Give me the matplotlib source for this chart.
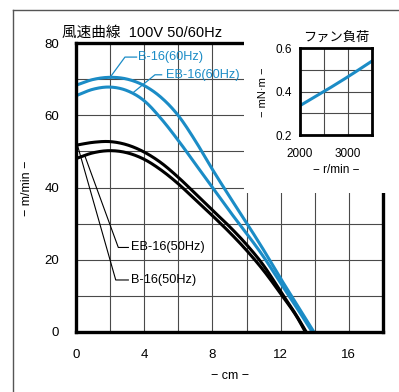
import numpy as np
import matplotlib
matplotlib.use("Agg")
import matplotlib.pyplot as plt
from matplotlib.lines import Line2D
from matplotlib.patches import Rectangle

plt.rcParams['font.family'] = ['Liberation Sans', 'Noto Sans CJK JP', 'DejaVu Sans']

# ---- data ----
dist_cm = [0, 1, 2, 3, 4, 5, 6, 7, 8, 9, 10, 11, 12, 13]
b16_60 = [68.3, 69.9, 70.5, 70.0, 68.2, 64.9, 59.9, 52.9, 45.0, 37.5, 30.2, 22.7, 14.8, 7.2]
b16_60_end = 13.95
eb16_60 = [65.4, 67.2, 67.8, 66.8, 64.0, 59.0, 53.0, 46.5, 40.0, 33.5, 27.3, 20.8, 13.5, 6.3]
eb16_60_end = 13.85
b16_50 = [51.7, 52.5, 52.7, 51.8, 49.8, 46.8, 42.8, 38.3, 33.7, 29.2, 24.2, 18.4, 11.2, 4.0]
b16_50_end = 13.5
eb16_50 = [48.0, 49.6, 50.2, 49.6, 47.8, 44.8, 41.0, 36.6, 32.2, 27.6, 22.6, 17.0, 10.6, 3.8]
eb16_50_end = 13.45

rpm = [2000, 2500, 3000, 3500]
torque = [0.335, 0.40, 0.468, 0.54]

BLUE = '#1b8cc6'
GRID = '#4a4a4a'


def smooth(xs, ys, n=400):
    xs = np.asarray(xs, float)
    ys = np.asarray(ys, float)
    m = np.gradient(ys, xs)
    xx = np.linspace(xs[0], xs[-1], n)
    out = np.empty_like(xx)
    idx = np.clip(np.searchsorted(xs, xx) - 1, 0, len(xs) - 2)
    for k, x in enumerate(xx):
        i = idx[k]
        h = xs[i + 1] - xs[i]
        t = (x - xs[i]) / h
        h00 = 2 * t**3 - 3 * t**2 + 1
        h10 = t**3 - 2 * t**2 + t
        h01 = -2 * t**3 + 3 * t**2
        h11 = t**3 - t**2
        out[k] = h00 * ys[i] + h10 * h * m[i] + h01 * ys[i + 1] + h11 * h * m[i + 1]
    return xx, out


fig = plt.figure(figsize=(3.99, 3.92), dpi=100)
W, H = 399, 392

# outer frame (partial)
fig.add_artist(Line2D([13 / W, 1.0], [1 - 10 / H, 1 - 10 / H], color='#555555', lw=1.0))
fig.add_artist(Line2D([13 / W, 13 / W], [0, 1 - 10 / H], color='#555555', lw=1.0))

ax = fig.add_axes([76 / W, 1 - 332 / H, 307 / W, 289 / H])
ax.set_xlim(0, 18)
ax.set_ylim(0, 80)
ax.set_xticks([0, 4, 8, 12, 16])
ax.set_xticks(np.arange(2, 18, 2), minor=True)
ax.set_yticks([0, 20, 40, 60, 80])
ax.set_yticks(np.arange(10, 80, 10), minor=True)
ax.grid(True, which='both', color=GRID, lw=0.8)
ax.tick_params(which='both', length=0)
ax.tick_params(axis='y', pad=12, labelsize=9.5)
ax.tick_params(axis='x', pad=12, labelsize=9.5)
for s in ax.spines.values():
    s.set_linewidth(2.4)
    s.set_zorder(5)

for ys, xe, c in [(b16_60, b16_60_end, BLUE), (eb16_60, eb16_60_end, BLUE),
                  (b16_50, b16_50_end, 'black'), (eb16_50, eb16_50_end, 'black')]:
    xx, yy = smooth(dist_cm + [xe], ys + [0.0])
    ax.plot(xx, yy, color=c, lw=2.2, solid_capstyle='butt', zorder=3)

# leaders and labels
ax.plot([2.0, 2.87, 3.55], [70.5, 76.1, 76.1], color=BLUE, lw=0.9, zorder=4)
ax.text(3.65, 76.1, 'B-16(60Hz)', color=BLUE, fontsize=9.2, va='center', ha='left')
ax.plot([3.36, 4.63, 5.02], [66.3, 71.2, 71.2], color=BLUE, lw=0.9, zorder=4)
ax.text(5.3, 71.2, 'EB-16(60Hz)', color=BLUE, fontsize=9.2, va='center', ha='left')
ax.plot([0.08, 2.33, 3.07], [51.8, 14.4, 14.4], color='black', lw=0.8, zorder=4)
ax.text(3.22, 14.4, 'B-16(50Hz)', color='black', fontsize=9.2, va='center', ha='left')
ax.plot([0.5, 2.48, 3.07], [49.0, 23.4, 23.4], color='black', lw=0.8, zorder=4)
ax.text(3.22, 23.4, 'EB-16(50Hz)', color='black', fontsize=9.2, va='center', ha='left')

fig.text(62 / W, 1 - 33 / H, '風速曲線  100V 50/60Hz', fontsize=10.5, ha='left', va='center')
fig.text(27 / W, 1 - 188 / H, '− m/min −', fontsize=9, rotation=90, ha='center', va='center')
fig.text(230 / W, 1 - 376 / H, '− cm −', fontsize=9, ha='center', va='center')

# white panel hiding the top-right of the main grid
fig.add_artist(Rectangle((244 / W, 1 - 193 / H), 1 - 244 / W, 173 / H,
                         transform=fig.transFigure, facecolor='white', edgecolor='none', zorder=1))

ins = fig.add_axes([300 / W, 1 - 135 / H, 72 / W, 87 / H])
ins.set_zorder(2)
ins.set_xlim(2000, 3500)
ins.set_ylim(0.2, 0.6)
ins.set_xticks([2000, 3000])
ins.set_xticks([2500], minor=True)
ins.set_yticks([0.2, 0.4, 0.6])
ins.set_yticks([0.3, 0.5], minor=True)
ins.grid(True, which='both', color=GRID, lw=0.8)
ins.tick_params(which='both', length=0, labelsize=8.5)
ins.tick_params(axis='y', pad=6)
ins.tick_params(axis='x', pad=9)
for s in ins.spines.values():
    s.set_linewidth(2.0)
    s.set_zorder(5)
xx, yy = smooth(rpm, torque)
ins.plot(xx, yy, color=BLUE, lw=2.2, zorder=3)
ins.set_title('ファン負荷', fontsize=9.5, pad=5)
fig.text(263 / W, 1 - 92 / H, '− mN·m −', fontsize=8, rotation=90, ha='center', va='center')
fig.text(336 / W, 1 - 170 / H, '− r/min −', fontsize=8.5, ha='center', va='center')

fig.savefig('out.png', dpi=100)
